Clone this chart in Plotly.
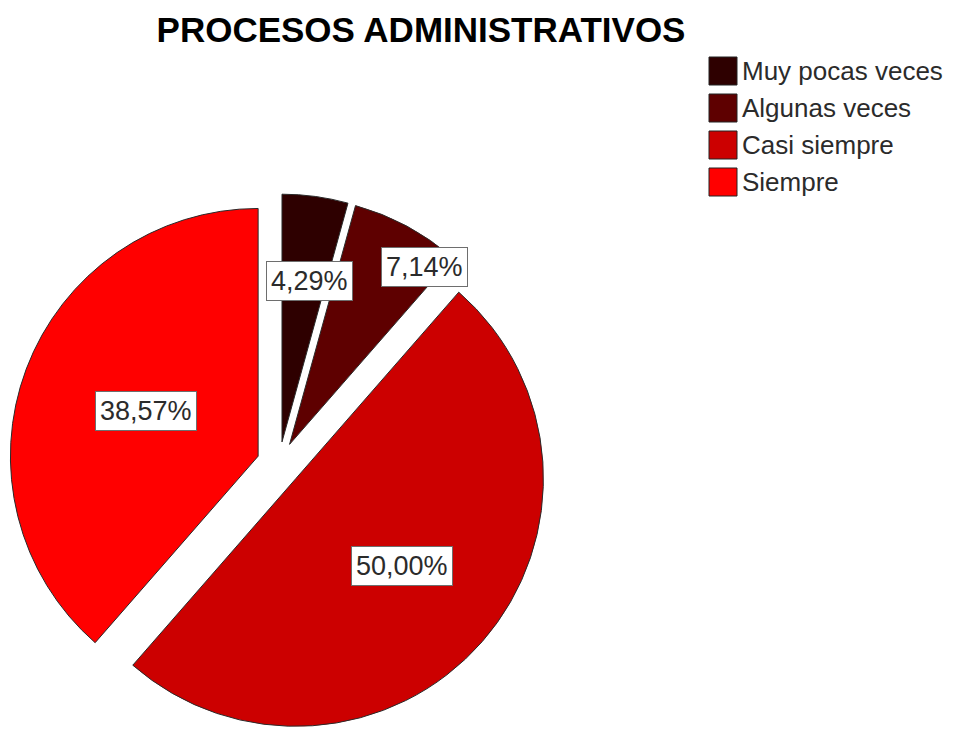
import math
import plotly.graph_objects as go

# Survey answers for "Procesos administrativos"
categories = ["Muy pocas veces", "Algunas veces", "Casi siempre", "Siempre"]
percentages = [4.29, 7.14, 50.00, 38.57]
slice_colors = ["#2e0000", "#5e0000", "#cc0000", "#ff0000"]

W, H = 964, 734
PULL = 0.09
TEXT_FONT = "Liberation Sans, Arial"

# pie box in pixels (square)
box_left, box_top, box_size = 9, 194, 540
dom_x = [box_left / W, (box_left + box_size) / W]
dom_y = [1 - (box_top + box_size) / H, 1 - box_top / H]

fig = go.Figure()
fig.add_trace(go.Pie(
    labels=categories,
    values=percentages,
    sort=False,
    direction="clockwise",
    rotation=0,
    pull=[PULL] * len(categories),
    marker=dict(colors=slice_colors, line=dict(color="#2a2a2a", width=1)),
    textinfo="none",
    hoverinfo="label+percent",
    showlegend=False,
    domain=dict(x=dom_x, y=dom_y),
))

# slice label boxes: (position along slice angle, fraction of radius)
R = box_size / (2 * (1 + PULL))
cx, cy = box_left + box_size / 2, box_top + box_size / 2
label_angle_frac = [0.62, 0.85, 0.49, 0.51]
label_radius = [0.66, 0.90, 0.555, 0.49]
total = sum(percentages)
start = 0.0
for i, p in enumerate(percentages):
    a0 = start / total * 2 * math.pi
    span = p / total * 2 * math.pi
    mid = a0 + span / 2
    lab = a0 + span * label_angle_frac[i]
    start += p
    # slice centre after the pull
    sx = cx + math.sin(mid) * PULL * R
    sy = cy - math.cos(mid) * PULL * R
    px = sx + math.sin(lab) * label_radius[i] * R
    py = sy - math.cos(lab) * label_radius[i] * R
    txt = f"{p:.2f}".replace(".", ",") + "%"
    fig.add_annotation(
        x=px / W, y=1 - py / H, xref="paper", yref="paper",
        text=txt, showarrow=False,
        font=dict(family=TEXT_FONT, size=27, color="#2b2b2b"),
        bgcolor="white", bordercolor="#6e6e6e", borderwidth=1, borderpad=4,
        xanchor="center", yanchor="middle",
    )

# legend: colour squares with category names
leg_x, leg_y0, leg_step, sw = 709, 57, 37, 28
for i, name in enumerate(categories):
    top = leg_y0 + i * leg_step
    fig.add_shape(
        type="rect", xref="paper", yref="paper",
        x0=leg_x / W, x1=(leg_x + sw) / W,
        y0=1 - (top + sw) / H, y1=1 - top / H,
        fillcolor=slice_colors[i], line=dict(color="#222222", width=1),
    )
    fig.add_annotation(
        x=(leg_x + sw + 3) / W, y=1 - (top + sw / 2) / H,
        xref="paper", yref="paper", text=name, showarrow=False,
        xanchor="left", yanchor="middle",
        font=dict(family=TEXT_FONT, size=26, color="#2b2b2b"),
    )

fig.update_layout(
    width=W, height=H,
    margin=dict(l=0, r=0, t=0, b=0),
    paper_bgcolor="white", plot_bgcolor="white",
    title=dict(
        text="<b>PROCESOS ADMINISTRATIVOS</b>",
        x=421 / W, y=1 - 30 / H, xanchor="center", yanchor="middle",
        font=dict(family=TEXT_FONT, size=35, color="black"),
    ),
)

fig.write_html("out.html")
